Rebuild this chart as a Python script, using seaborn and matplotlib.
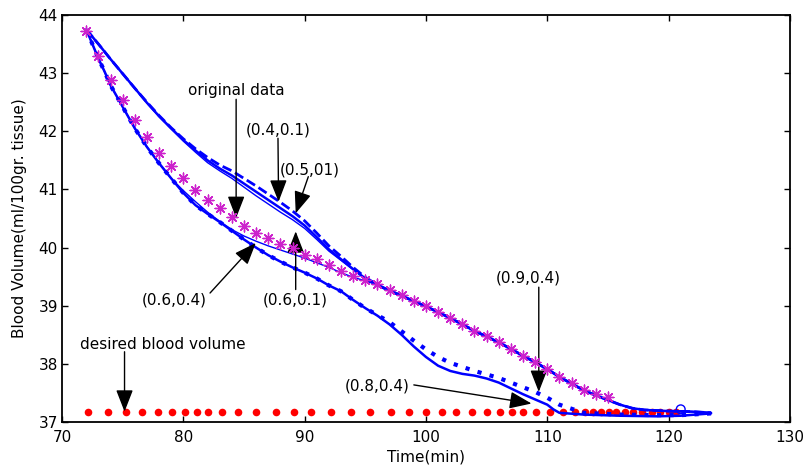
import numpy as np
import pandas as pd
import matplotlib
matplotlib.use("Agg")
import matplotlib.pyplot as plt
import seaborn as sns

# ---- data ----
# original data (magenta asterisks), one sample per minute
t_orig = list(range(72, 116))
v_orig = [43.72, 43.30, 42.89, 42.53, 42.20, 41.90, 41.63, 41.40, 41.19, 40.99,
          40.82, 40.69, 40.53, 40.38, 40.26, 40.17, 40.07, 39.99, 39.88, 39.80,
          39.70, 39.60, 39.51, 39.45, 39.37, 39.28, 39.18, 39.08, 39.00, 38.89,
          38.79, 38.69, 38.57, 38.48, 38.38, 38.26, 38.14, 38.04, 37.92, 37.78,
          37.67, 37.56, 37.49, 37.43]

# shared tail of the upper group (after the curves merge with the data)
t_tail = [99, 100, 101, 102, 103, 104, 105, 106, 107, 108, 109, 110, 111, 112,
          113, 114, 115, 116, 117, 118, 119, 120, 122, 123.5]
v_tail = [39.08, 38.99, 38.89, 38.79, 38.68, 38.57, 38.47, 38.37, 38.26, 38.14,
          38.03, 37.91, 37.78, 37.66, 37.55, 37.46, 37.38, 37.30, 37.24, 37.21,
          37.20, 37.19, 37.18, 37.16]

# (0.5,0.1) upper solid
t_up = [72, 73, 74, 75, 76, 77, 78, 79, 80, 81, 82, 83, 84, 85, 86, 87, 88, 89,
        90, 91, 92, 93, 94, 95, 96, 97, 98]
v_05_01 = [43.75, 43.50, 43.24, 42.99, 42.74, 42.49, 42.26, 42.05, 41.85, 41.67,
           41.50, 41.36, 41.24, 41.10, 40.96, 40.82, 40.68, 40.54, 40.38, 40.18,
           39.97, 39.80, 39.63, 39.47, 39.35, 39.26, 39.17]
# (0.4,0.1) upper dashed
v_04_01 = [43.75, 43.50, 43.24, 42.99, 42.74, 42.50, 42.27, 42.06, 41.87, 41.70,
           41.55, 41.42, 41.32, 41.19, 41.06, 40.92, 40.78, 40.63, 40.46, 40.25,
           40.03, 39.85, 39.66, 39.49, 39.36, 39.26, 39.17]
# (0.6,0.1) upper thin
v_06_01 = [43.75, 43.50, 43.24, 42.99, 42.74, 42.49, 42.25, 42.04, 41.83, 41.64,
           41.46, 41.32, 41.19, 41.04, 40.89, 40.75, 40.61, 40.48, 40.33, 40.14,
           39.94, 39.78, 39.62, 39.46, 39.35, 39.26, 39.17]

# (0.8,0.4) lower solid
t_low = [72, 72.5, 73, 73.5, 74, 75, 76, 77, 78, 79, 80, 81, 82, 83, 84, 85, 86,
         87, 88, 89, 90, 91, 92, 93, 94, 95, 96, 97, 98, 99, 100, 101, 102, 103,
         104, 105, 106, 107, 108, 109, 110, 110.5, 111, 113, 116, 119, 121, 123.5]
v_08_04 = [43.75, 43.50, 43.25, 43.03, 42.79, 42.42, 42.05, 41.73, 41.45, 41.19,
           40.94, 40.73, 40.58, 40.44, 40.29, 40.14, 40.00, 39.87, 39.76, 39.66,
           39.57, 39.47, 39.35, 39.25, 39.10, 38.96, 38.83, 38.68, 38.50, 38.30,
           38.12, 37.97, 37.88, 37.83, 37.80, 37.75, 37.68, 37.58, 37.48, 37.39,
           37.30, 37.22, 37.16, 37.13, 37.11, 37.10, 37.11, 37.15]
# (0.9,0.4) lower dotted
v_09_04 = [43.75, 43.50, 43.25, 43.03, 42.79, 42.42, 42.05, 41.73, 41.45, 41.19,
           40.94, 40.73, 40.58, 40.44, 40.29, 40.14, 40.00, 39.87, 39.76, 39.66,
           39.57, 39.47, 39.35, 39.25, 39.10, 38.96, 38.84, 38.72, 38.56, 38.40,
           38.25, 38.12, 38.02, 37.95, 37.88, 37.82, 37.76, 37.68, 37.60, 37.52,
           37.42, 37.36, 37.30, 37.16, 37.13, 37.12, 37.12, 37.15]

# (0.6,0.4) thin line between lower curve and data
t_thin = [72, 73, 74, 75, 76, 77, 78, 79, 80, 81, 82, 83, 84, 85, 86, 87, 88, 89,
          90, 91, 92, 93, 94, 95, 96, 97, 98]
v_06_04 = [43.75, 43.25, 42.79, 42.42, 42.05, 41.73, 41.45, 41.19, 40.98, 40.79,
           40.61, 40.45, 40.31, 40.20, 40.11, 40.03, 39.96, 39.89, 39.82, 39.74,
           39.66, 39.57, 39.49, 39.43, 39.36, 39.28, 39.18]

# desired blood volume (red dots)
t_desired = [72.1, 73.8, 75.3, 76.6, 77.9, 79.1, 80.1, 81.1, 82.0, 83.2, 84.5,
             86.0, 87.6, 89.1, 90.5, 92.2, 93.8, 95.4, 97.1, 98.6, 100.0, 101.3,
             102.5, 103.8, 105.0, 106.1, 107.1, 108.0, 109.1, 110.2, 111.3, 112.3,
             113.1, 113.8, 114.4, 115.1, 115.7, 116.4, 117.1, 117.8, 118.6, 119.3,
             120.0, 120.6]
v_desired = [37.18] * len(t_desired)

# ---- figure ----
sns.set_style("ticks")
plt.rcParams["font.family"] = ["DejaVu Sans"]
plt.rcParams["xtick.direction"] = "in"
plt.rcParams["ytick.direction"] = "in"
for k in ["text.color", "axes.labelcolor", "xtick.color", "ytick.color", "axes.edgecolor"]:
    plt.rcParams[k] = "black"

fig, ax = plt.subplots(figsize=(8.06, 4.68), dpi=100)
fig.subplots_adjust(left=0.077, right=0.980, bottom=0.098, top=0.968)

blue = "#0000ff"

sns.scatterplot(x=t_desired, y=v_desired, color="red", s=30, linewidth=0, ax=ax, zorder=2)

sns.lineplot(x=t_up + t_tail, y=v_04_01 + v_tail, sort=False, color=blue, lw=2,
             linestyle=(0, (3.5, 1.5)), ax=ax, zorder=3)
sns.lineplot(x=t_up + t_tail, y=v_05_01 + v_tail, sort=False, color=blue, lw=1.8, ax=ax, zorder=3)
sns.lineplot(x=t_up + t_tail, y=v_06_01 + v_tail, sort=False, color=blue, lw=1.0, ax=ax, zorder=3)
sns.lineplot(x=t_thin + t_tail, y=v_06_04 + v_tail, sort=False, color=blue, lw=1.0, ax=ax, zorder=3)
sns.lineplot(x=t_low, y=v_08_04, sort=False, color=blue, lw=1.8, ax=ax, zorder=3)
sns.lineplot(x=t_low, y=v_09_04, sort=False, color=blue, lw=3,
             linestyle=(0, (1, 2)), ax=ax, zorder=3)

sns.scatterplot(x=t_orig, y=v_orig, color="#cc22cc", marker=(8, 2, 0), s=60,
                linewidth=1.0, ax=ax, zorder=4)
sns.scatterplot(x=[121.0], y=[37.22], marker="o", s=40, facecolors="none",
                edgecolors=blue, linewidth=1.0, ax=ax, zorder=4)

# ---- annotations ----
arrow = dict(arrowstyle="-|>,head_length=0.9,head_width=0.35", color="black",
             lw=1.0, mutation_scale=15, shrinkA=0, shrinkB=0)
fs = 11

ax.text(84.35, 42.70, "original data", ha="center", va="center", fontsize=fs)
ax.annotate("", xy=(84.35, 40.51), xytext=(84.35, 42.55), arrowprops=arrow)

ax.text(87.8, 42.03, "(0.4,0.1)", ha="center", va="center", fontsize=fs)
ax.annotate("", xy=(87.85, 40.79), xytext=(87.8, 41.88), arrowprops=arrow)

ax.text(90.4, 41.34, "(0.5,01)", ha="center", va="center", fontsize=fs)
ax.annotate("", xy=(89.26, 40.59), xytext=(90.3, 41.22), arrowprops=arrow)

ax.text(89.26, 39.10, "(0.6,0.1)", ha="center", va="center", fontsize=fs)
ax.annotate("", xy=(89.26, 40.28), xytext=(89.26, 39.28), arrowprops=arrow)

ax.text(79.26, 39.10, "(0.6,0.4)", ha="center", va="center", fontsize=fs)
ax.annotate("", xy=(85.97, 40.08), xytext=(82.2, 39.22), arrowprops=arrow)

ax.text(108.45, 39.48, "(0.9,0.4)", ha="center", va="center", fontsize=fs)
ax.annotate("", xy=(109.3, 37.52), xytext=(109.3, 39.32), arrowprops=arrow)

ax.text(95.97, 37.62, "(0.8,0.4)", ha="center", va="center", fontsize=fs)
ax.annotate("", xy=(108.7, 37.32), xytext=(99.0, 37.64), arrowprops=arrow)

ax.text(78.3, 38.34, "desired blood volume", ha="center", va="center", fontsize=fs)
ax.annotate("", xy=(75.15, 37.18), xytext=(75.15, 38.21), arrowprops=arrow)

ax.set_xlim(70, 130)
ax.set_ylim(37, 44)
ax.set_xticks(np.arange(70, 131, 10))
ax.set_yticks(np.arange(37, 45, 1))
ax.tick_params(labelsize=11, length=4, width=1, top=True, right=True)
ax.tick_params(axis="x", pad=6)
ax.tick_params(axis="y", pad=3)
for s in ax.spines.values():
    s.set_linewidth(1.3)
    s.set_visible(True)
ax.set_xlabel("Time(min)", fontsize=fs, labelpad=3)
ax.set_ylabel("Blood Volume(ml/100gr. tissue)", fontsize=fs, labelpad=8)

fig.savefig("out.png", dpi=100)
